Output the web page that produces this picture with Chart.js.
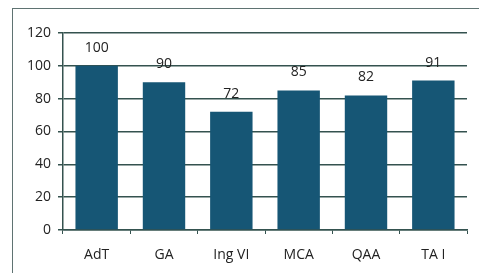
<!DOCTYPE html>
<html>
<head>
<meta charset="utf-8">
<script src="https://cdn.jsdelivr.net/npm/chart.js@4/dist/chart.umd.min.js"></script>
<style>
  html, body { margin: 0; padding: 0; background: #fff; }
  #wrap { width: 479px; height: 273px; position: relative; }
</style>
</head>
<body>
<div id="wrap"><canvas id="scoreChart" width="479" height="273"></canvas></div>
<script>
const categories = ["AdT", "GA", "Ing VI", "MCA", "QAA", "TA I"];
const scores = [100, 90, 72, 85, 82, 91];
const yTicks = [0, 20, 40, 60, 80, 100, 120];

const barColor = "#165675";
const gridColor = "#34524f";

// frame around the whole chart
const framePlugin = {
    id: "frame",
    beforeDraw(chart) {
        const c = chart.ctx;
        c.save();
        c.fillStyle = "#fff";
        c.fillRect(0, 0, chart.width, chart.height);
        c.strokeStyle = "#5f7372";
        c.lineWidth = 1;
        c.strokeRect(12.5, 8.5, chart.width, chart.height);
        c.restore();
    }
};

// value labels above the bars
const valueLabels = {
    id: "valueLabels",
    afterDatasetsDraw(chart) {
        const c = chart.ctx;
        const meta = chart.getDatasetMeta(0);
        c.save();
        c.font = "14px 'Open Sans', sans-serif";
        c.fillStyle = "#222";
        c.textAlign = "center";
        c.textBaseline = "middle";
        meta.data.forEach(function (bar, i) {
            c.fillText(String(scores[i]), bar.x, bar.y - 18);
        });
        c.restore();
    }
};

new Chart(document.getElementById("scoreChart"), {
    type: "bar",
    data: {
        labels: categories,
        datasets: [{
            data: scores,
            backgroundColor: barColor,
            barPercentage: 0.63,
            categoryPercentage: 1
        }]
    },
    options: {
        responsive: false,
        animation: false,
        layout: { padding: { top: 33, right: 12, left: 0, bottom: 0 } },
        plugins: { legend: { display: false }, tooltip: { enabled: false } },
        scales: {
            x: {
                afterFit(scale) { scale.height = 43; },
                grid: {
                    offset: true,
                    drawOnChartArea: false,
                    drawTicks: true,
                    tickLength: 4,
                    color: gridColor
                },
                border: { color: gridColor, width: 1.5 },
                ticks: {
                    color: "#222",
                    padding: 13,
                    font: { family: "'Open Sans', sans-serif", size: 14 }
                }
            },
            y: {
                min: 0,
                max: 120,
                afterFit(scale) { scale.width = 63; },
                afterBuildTicks(scale) {
                    scale.ticks = yTicks.map(function (v) { return { value: v }; });
                },
                grid: {
                    color: gridColor,
                    lineWidth: 1.5,
                    tickLength: 5
                },
                border: { color: gridColor, width: 1.5 },
                ticks: {
                    color: "#222",
                    padding: 7,
                    font: { family: "'Open Sans', sans-serif", size: 14 }
                }
            }
        }
    },
    plugins: [framePlugin, valueLabels]
});
</script>
</body>
</html>
